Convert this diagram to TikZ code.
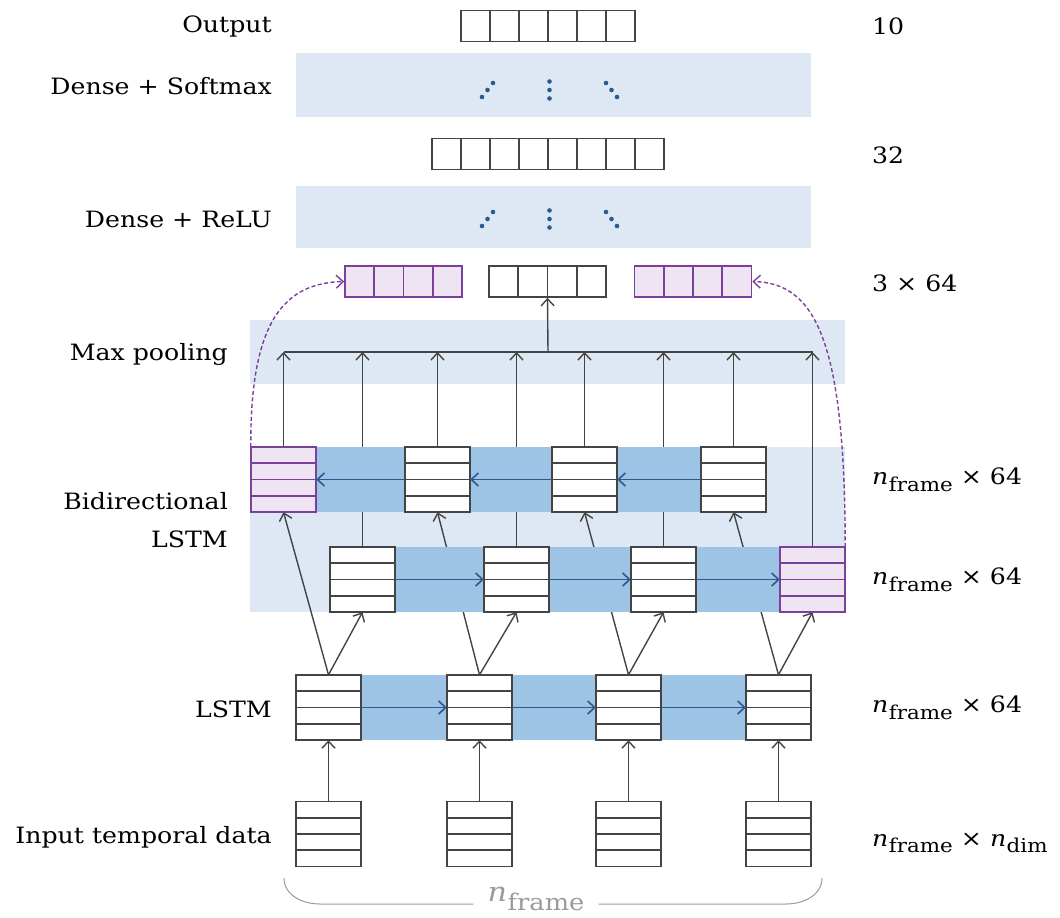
\documentclass[tikz,border=0pt]{standalone}
\usepackage{fontspec}
\setmainfont{DejaVu Serif}[FakeStretch=1.12]
\usepackage{graphicx}
\usetikzlibrary{arrows.meta,calc}
\definecolor{lightband}{HTML}{DDE8F4}
\definecolor{darkband}{HTML}{9DC3E5}
\definecolor{pfill}{HTML}{EFE4F1}
\definecolor{pline}{HTML}{7B3F9E}
\definecolor{arrblue}{HTML}{2A5B8C}
\definecolor{boxline}{HTML}{444444}
\definecolor{bracegray}{HTML}{9A9A9A}
\newcommand\nsub[1]{\textit{n}\kern0.5pt\raisebox{-0.3em}{\scalebox{0.85}{#1}}}
\begin{document}
\begin{tikzpicture}[x=1pt,y=-1pt,
  stack/.style={draw=#1,line width=1.7pt,fill=white,minimum width=65pt,minimum height=65pt,inner sep=0pt,
    path picture={\foreach \k in {1,2,3}{\draw[#1,line width=1.7pt]
      ($(path picture bounding box.north west)!\k/4!(path picture bounding box.south west)$) --
      ($(path picture bounding box.north east)!\k/4!(path picture bounding box.south east)$);}}},
  stack/.default=boxline,
  cells/.style n args={2}{draw=#2,line width=1.7pt,fill=white,minimum height=31pt,inner sep=0pt,
    path picture={\pgfmathtruncatemacro\mlast{#1-1}\foreach \k in {1,...,\mlast}{\draw[#2,line width=1.7pt]
      ($(path picture bounding box.north west)!\k/#1!(path picture bounding box.north east)$) --
      ($(path picture bounding box.south west)!\k/#1!(path picture bounding box.south east)$);}}},
  lab/.style={anchor=east,font=\fontsize{22.5}{38}\selectfont,inner sep=0pt,align=right},
  rlab/.style={anchor=west,font=\fontsize{22.5}{26}\selectfont,inner sep=0pt},
  conn/.style={boxline,line width=1.4pt},
  arr/.style={conn,-{Straight Barb[length=7pt,width=13pt]}},
  barr/.style={arrblue,line width=1.6pt,-{Straight Barb[length=7pt,width=13pt]}},
  parr/.style={pline,line width=1.4pt,dash pattern=on 4pt off 2.5pt,-{Straight Barb[length=7pt,width=13pt]}},
  dot/.style={circle,fill=arrblue,inner sep=0pt,minimum size=4.6pt}
]
\useasboundingbox (0,0) rectangle (1060,918);

% bands
\fill[lightband] (296,53) rectangle (811,117);
\fill[lightband] (296,186) rectangle (811,248);
\fill[lightband] (250,320) rectangle (845,384);
\fill[lightband] (250,447) rectangle (845,612);

% top rows
\node[cells={6}{boxline},minimum width=174pt] (out) at (548,26) {};
\node[cells={8}{boxline},minimum width=232pt] (d32) at (548,154) {};
\node[cells={4}{pline},fill=pfill,minimum width=117pt] (pl) at (403.5,281.5) {};
\node[cells={4}{boxline},minimum width=117pt] (pm) at (547.5,281.5) {};
\node[cells={4}{pline},fill=pfill,minimum width=117pt] (pr) at (693,281.5) {};

% dots
\foreach \yy/\nm in {90/s,219/r}{
  \node[dot] (\nm a1) at (482,\yy+7) {}; \node[dot] (\nm a2) at (487.5,\yy) {}; \node[dot] (\nm a3) at (493,\yy-7) {};
  \node[dot] (\nm b1) at (549.5,\yy-8.5) {}; \node[dot] (\nm b2) at (549.5,\yy) {}; \node[dot] (\nm b3) at (549.5,\yy+8.5) {};
  \node[dot] (\nm c1) at (606,\yy-7) {}; \node[dot] (\nm c2) at (611.5,\yy) {}; \node[dot] (\nm c3) at (617,\yy+7) {};
}

% coordinates of stacks
\coordinate (cb1) at (283.5,479.5); \coordinate (cb2) at (437.5,479.5);
\coordinate (cb3) at (584.5,479.5); \coordinate (cb4) at (733.5,479.5);
\coordinate (cf1) at (362.5,579.5); \coordinate (cf2) at (516.5,579.5);
\coordinate (cf3) at (663.5,579.5); \coordinate (cf4) at (812.5,579.5);

% named placeholders for stacks (drawn later)
\foreach \i/\x in {1/328.5,2/479.5,3/628.5,4/778.5}{
  \path (\x,707.5) node[minimum width=65pt,minimum height=65pt,inner sep=0pt] (l\i) {};
  \path (\x,834) node[minimum width=65pt,minimum height=65pt,inner sep=0pt] (in\i) {};
}
\foreach \i in {1,2,3,4}{
  \path (cb\i) node[minimum width=65pt,minimum height=65pt,inner sep=0pt] (b\i) {};
  \path (cf\i) node[minimum width=65pt,minimum height=65pt,inner sep=0pt] (f\i) {};
}

% pooling
\coordinate (pool) at (548,352);
\foreach \i in {1,2,3,4}{
  \draw[arr] (b\i.north) -- (b\i.north |- pool);
  \draw[arr] (f\i.north) -- (f\i.north |- pool);
}
\draw[conn,line width=1.7pt] (b1.north |- pool) -- (f4.north |- pool);
\draw[arr] (pool) -- (pm.south);

% LSTM -> BiLSTM, input -> LSTM
\foreach \i in {1,2,3,4}{
  \draw[arr] (l\i.north) -- (b\i.south);
  \draw[arr] (l\i.north) -- (f\i.south);
  \draw[arr] (in\i.north) -- (l\i.south);
}

% dark bands
\fill[darkband] (b1.north east) rectangle (b4.south west);
\fill[darkband] (f1.north east) rectangle (f4.south west);
\fill[darkband] (l1.north east) rectangle (l4.south west);

% draw stacks
\node[stack=pline,fill=pfill] at (b1) {};
\foreach \i in {2,3,4}{ \node[stack] at (b\i) {}; }
\foreach \i in {1,2,3}{ \node[stack] at (f\i) {}; }
\node[stack=pline,fill=pfill] at (f4) {};
\foreach \i in {1,2,3,4}{ \node[stack] at (l\i) {}; \node[stack] at (in\i) {}; }

% recurrent arrows
\draw[barr] (b2.west) -- (b1.east);
\draw[barr] (b3.west) -- (b2.east);
\draw[barr] (b4.west) -- (b3.east);
\draw[barr] (f1.east) -- (f2.west);
\draw[barr] (f2.east) -- (f3.west);
\draw[barr] (f3.east) -- (f4.west);
\draw[barr] (l1.east) -- (l2.west);
\draw[barr] (l2.east) -- (l3.west);
\draw[barr] (l3.east) -- (l4.west);

% purple dashed
\draw[parr] (b1.north west) .. controls (250,320) and (285,283) .. (pl.west);
\draw[parr] (f4.north east) .. controls (845,340) and (815,283) .. (pr.east);

% brace
\node[text=bracegray,font=\fontsize{27}{30}\selectfont,inner xsep=14pt,inner ysep=2pt] (nf) at (536,899) {\nsub{frame}};
\coordinate (brL) at (284,878); \coordinate (brR) at (822,878);
\draw[bracegray,line width=1pt] (brL) to[out=-90,in=180] (320,904) -- (nf.west |- 0,904);
\draw[bracegray,line width=1pt] (brR) to[out=-90,in=0] (786,904) -- (nf.east |- 0,904);

% left labels
\node[lab] (tOut) at (272,26) {Output};
\node[lab] (tSm) at (272,86) {Dense + Softmax};
\node[lab] (tRe) at (272,219) {Dense + ReLU};
\node[lab] (tMp) at (228,354) {Max pooling};
\node[lab] (tBi) at (228,520) {Bidirectional\\LSTM};
\node[lab] (tLs) at (272,709) {LSTM};
\node[lab] (tIn) at (272,837) {Input temporal data};

% right labels
\node[rlab] (r10) at (872,26) {10};
\node[rlab] (r32) at (872,155) {32};
\node[rlab] (r364) at (872,283) {3 × 64};
\node[rlab] (rb1) at (872,480) {\nsub{frame} × 64};
\node[rlab] (rb2) at (872,580) {\nsub{frame} × 64};
\node[rlab] (rl) at (872,708) {\nsub{frame} × 64};
\node[rlab] (rin) at (872,843) {\nsub{frame} × \nsub{dim}};
\end{tikzpicture}
\end{document}
